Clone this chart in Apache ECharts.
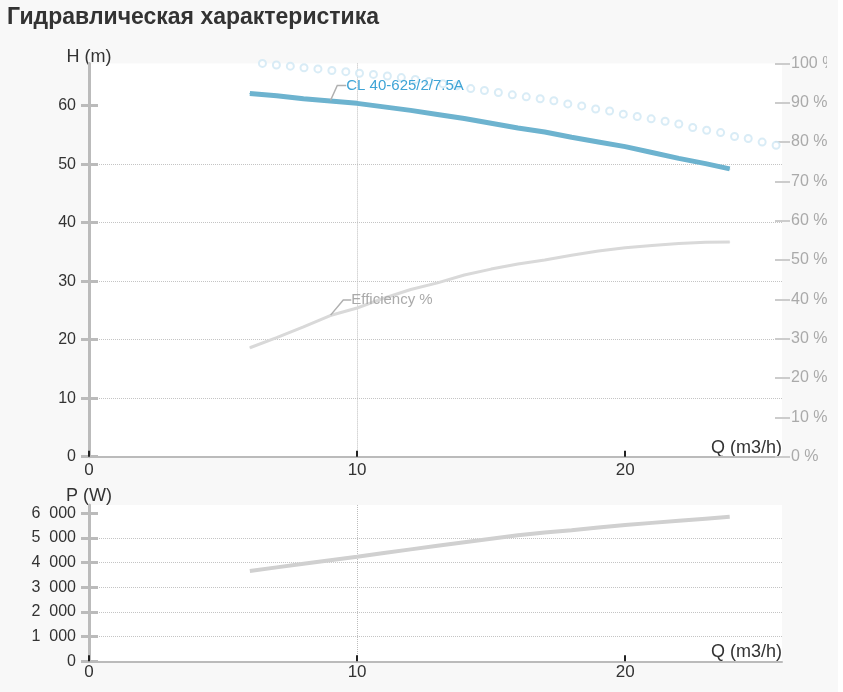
<!DOCTYPE html>
<html>
<head>
<meta charset="utf-8">
<script src="https://cdn.jsdelivr.net/npm/echarts@6/dist/echarts.min.js"></script>
<style>
html,body{margin:0;padding:0;background:#ffffff;}
#wrap{width:838px;height:692px;background:#f8f8f8;}
#chart{width:827px;height:692px;}
</style>
</head>
<body>
<div id="wrap"><div id="chart"></div></div>
<script>
// ---- data ----
const titleText = 'Гидравлическая характеристика';
const pumpName = 'CL 40-625/2/7.5A';
const effName = 'Efficiency %';

// flow Q (m3/h) for the curves
const flowQ = [6, 7, 8, 9, 10, 11, 12, 13, 14, 15, 16, 17, 18, 19, 20, 21, 22, 23, 23.9];
// head H (m)
const headH = [62.1, 61.7, 61.2, 60.8, 60.4, 59.8, 59.2, 58.5, 57.8, 57.0, 56.2, 55.5, 54.6, 53.8, 53.0, 52.0, 51.0, 50.1, 49.2];
// efficiency (%)
const efficiency = [27.7, 30.3, 33.0, 35.9, 37.8, 40.3, 42.5, 44.2, 46.2, 47.7, 49.0, 50.0, 51.2, 52.3, 53.1, 53.7, 54.2, 54.5, 54.6];
// power P (W)
const powerW = [3660, 3810, 3955, 4100, 4240, 4390, 4540, 4690, 4830, 4970, 5110, 5220, 5320, 5425, 5525, 5615, 5700, 5785, 5862];

// light-blue circle markers (right % axis)
const circleQ = [6.47, 6.99, 7.51, 8.02, 8.54, 9.06, 9.58, 10.09, 10.61, 11.13, 11.65, 12.17, 12.68, 13.20, 13.72, 14.24, 14.75, 15.27, 15.79, 16.31, 16.83, 17.34, 17.86, 18.38, 18.90, 19.42, 19.93, 20.45, 20.97, 21.49, 22.00, 22.52, 23.04, 23.56, 24.08, 24.59, 25.11, 25.63];
const circlePct = [100.0, 99.6, 99.3, 98.9, 98.6, 98.2, 97.9, 97.5, 97.2, 96.8, 96.4, 95.9, 95.4, 94.8, 94.3, 93.6, 93.1, 92.6, 92.0, 91.5, 91.0, 90.5, 89.7, 89.2, 88.4, 87.9, 87.1, 86.5, 85.9, 85.3, 84.6, 83.7, 83.0, 82.4, 81.4, 80.9, 80.0, 79.2];

// axis ticks
const qTicks = [0, 10, 20];
const hTicks = [0, 10, 20, 30, 40, 50, 60];
const pTicks = [0, 1000, 2000, 3000, 4000, 5000, 6000];
const labelAtQ = 9;

// ---- build chart ----
const FONT = "'Liberation Sans', Arial, sans-serif";
const AX = '#bbbbbb';
const GRIDC = '#c4c4c4';

function pairs(xs, ys, labelCfg) {
  return xs.map((x, i) => {
    if (labelCfg && x === labelAtQ) {
      return { value: [x, ys[i]], label: labelCfg };
    }
    return [x, ys[i]];
  });
}
function fmtThousands(v) {
  return String(v).replace(/\B(?=(\d{3})+(?!\d))/g, '\u2007');
}

function xAxisCfg(gridIndex, labelMargin) {
  return {
    type: 'value', gridIndex: gridIndex, min: 0, max: 25.85, interval: 10,
    axisLine: { show: true, lineStyle: { color: AX, width: 2 } },
    axisTick: { show: true, inside: true, length: 6, customValues: qTicks, lineStyle: { color: '#222', width: 2 } },
    axisLabel: { customValues: qTicks, color: '#333', fontSize: 17, fontFamily: FONT, margin: labelMargin },
    splitLine: { show: true, showMinLine: false, showMaxLine: false, lineStyle: { type: 'dotted', color: '#bdbdbd', width: 1 } },
    name: 'Q (m3/h)', nameLocation: 'end', nameGap: 0,
    nameTextStyle: { align: 'right', verticalAlign: 'bottom', fontSize: 18, color: '#333', fontFamily: FONT, padding: [0, 0, 0, 0] }
  };
}
function yMainCfg(gridIndex, max, ticks, name, fmt) {
  return {
    type: 'value', gridIndex: gridIndex, position: 'left', min: 0, max: max,
    axisLine: { show: true, lineStyle: { color: AX, width: 3 } },
    axisTick: { show: true, length: 8, customValues: ticks, lineStyle: { color: AX, width: 3 } },
    axisLabel: { customValues: ticks, color: '#333', fontSize: 16, fontFamily: FONT, margin: 13, padding: [0, 0, 10, 0], formatter: fmt },
    splitLine: { show: true, showMaxLine: false, lineStyle: { type: 'dotted', color: GRIDC, width: 1 } },
    name: name, nameLocation: 'end', nameGap: -3,
    nameTextStyle: { fontSize: 18, color: '#333', fontFamily: FONT }
  };
}
function yAuxCfg(gridIndex, max, ticks) {
  return {
    type: 'value', gridIndex: gridIndex, position: 'left', min: 0, max: max,
    axisLine: { show: false },
    axisTick: { show: true, inside: true, length: 9, customValues: ticks, lineStyle: { color: AX, width: 3 } },
    axisLabel: { show: false },
    splitLine: { show: false }
  };
}

const chart = echarts.init(document.getElementById('chart'), null, { renderer: 'canvas' });
chart.setOption({
  animation: false,
  backgroundColor: 'transparent',
  textStyle: { fontFamily: FONT },
  title: {
    text: titleText, left: 2, top: 1,
    textStyle: { fontSize: 23, fontWeight: 'bold', color: '#333', fontFamily: FONT }
  },
  grid: [
    { left: 89, right: 45, top: 63.4, bottom: 235.3, show: true, backgroundColor: '#ffffff', borderWidth: 0, outerBoundsMode: 'none', containLabel: false },
    { left: 89, right: 45, top: 505, bottom: 30.7, show: true, backgroundColor: '#ffffff', borderWidth: 0, outerBoundsMode: 'none', containLabel: false }
  ],
  xAxis: [xAxisCfg(0, 5), xAxisCfg(1, 3)],
  yAxis: [
    yMainCfg(0, 67.23, hTicks, 'H (m)', v => String(v)),
    yAuxCfg(0, 67.23, hTicks),
    {
      type: 'value', gridIndex: 0, position: 'right', offset: -7, min: 0, max: 100, interval: 10,
      axisLine: { show: false },
      axisTick: { show: true, length: 15, lineStyle: { color: '#cccccc', width: 2 } },
      axisLabel: { color: '#aaaaaa', fontSize: 16, fontFamily: FONT, margin: 16, padding: [0, 0, 8, 0], formatter: '{value} %' },
      splitLine: { show: false }
    },
    yMainCfg(1, 6340, pTicks, 'P (W)', fmtThousands),
    yAuxCfg(1, 6340, pTicks)
  ],
  series: [
    {
      name: 'circles', type: 'scatter', xAxisIndex: 0, yAxisIndex: 2,
      symbol: 'emptyCircle', symbolSize: 7,
      itemStyle: { color: '#cfe7f4', borderColor: '#cfe7f4', borderWidth: 2 },
      data: circleQ.map((q, i) => [q, circlePct[i]]),
      z: 1
    },
    {
      name: effName, type: 'line', xAxisIndex: 0, yAxisIndex: 2,
      showSymbol: true, symbol: 'circle', symbolSize: 1,
      itemStyle: { color: '#d9d9d9' },
      lineStyle: { color: '#d9d9d9', width: 3 },
      label: { show: false },
      labelLine: { show: true, length2: 8, lineStyle: { color: '#b0b0b0', width: 1.5 } },
      labelLayout: { dx: 20.5, dy: -15.5 },
      data: pairs(flowQ, efficiency, { show: true, position: 'right', distance: 0, formatter: effName, color: '#aaaaaa', fontSize: 15, fontFamily: FONT }),
      z: 2
    },
    {
      name: pumpName, type: 'line', xAxisIndex: 0, yAxisIndex: 0,
      showSymbol: true, symbol: 'circle', symbolSize: 1,
      itemStyle: { color: '#6db3cf' },
      lineStyle: { color: '#6db3cf', width: 5 },
      label: { show: false },
      labelLine: { show: true, length2: 9, lineStyle: { color: '#b0b0b0', width: 1.5 } },
      labelLayout: { dx: 15.5, dy: -15.5 },
      data: pairs(flowQ, headH, { show: true, position: 'right', distance: 0, formatter: pumpName, color: '#3ea4d6', fontSize: 15, fontFamily: FONT }),
      z: 3
    },
    {
      name: 'P', type: 'line', xAxisIndex: 1, yAxisIndex: 3,
      showSymbol: false,
      lineStyle: { color: '#d0d0d0', width: 4 },
      data: flowQ.map((q, i) => [q, powerW[i]]),
      z: 2
    }
  ]
});
</script>
</body>
</html>
